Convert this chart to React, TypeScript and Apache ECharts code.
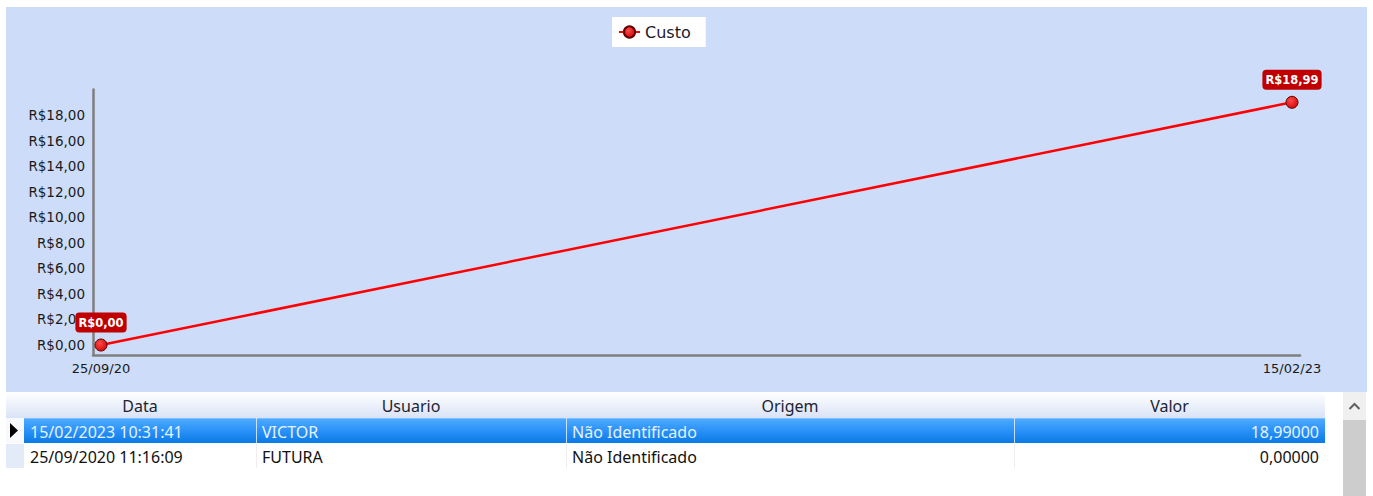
import React, { useEffect, useRef } from 'react';
import * as echarts from 'echarts';

// ---- data ----
const dates = ['2020-09-25T11:16:09', '2023-02-15T10:31:41'];
const dateLabels = ['25/09/20', '15/02/23'];
const costs = [0, 18.99];
const yTicks = [0, 2, 4, 6, 8, 10, 12, 14, 16, 18];
const seriesName = 'Custo';

const tableColumns = ['Data', 'Usuario', 'Origem', 'Valor'];
const tableDates = ['15/02/2023 10:31:41', '25/09/2020 11:16:09'];
const tableUsers = ['VICTOR', 'FUTURA'];
const tableOrigins = ['Não Identificado', 'Não Identificado'];
const tableValues = ['18,99000', '0,00000'];

const money = (v: number) => 'R$' + v.toFixed(2).replace('.', ',');

const colLeft = [24, 256, 566, 1014];
const colWidth = [232, 310, 448, 311];
const colAlign: ('left' | 'right')[] = ['left', 'left', 'left', 'right'];

export default function App() {
  const ref = useRef<HTMLDivElement>(null);

  useEffect(() => {
    document.body.style.margin = '0';
    if (!ref.current) return;
    const chart = echarts.init(ref.current, undefined, { renderer: 'svg' });
    const times = dates.map((d) => Date.parse(d));
    const span = times[1] - times[0];
    const pad = (span * 8) / 1191;
    const ball = new echarts.graphic.RadialGradient(0.4, 0.35, 0.75, [
      { offset: 0, color: '#ff4a4a' },
      { offset: 1, color: '#d00000' },
    ]);
    chart.setOption({
      animation: false,
      backgroundColor: 'transparent',
      legend: {
        left: 612,
        top: 17,
        backgroundColor: '#ffffff',
        padding: [7, 15, 7, 6],
        itemWidth: 21,
        itemHeight: 14,
        textStyle: { fontFamily: 'DejaVu Sans', fontSize: 16, color: '#1a1a2a' },
        data: [seriesName],
      },
      grid: { left: 93, right: 73, top: 89.4, bottom: 37 },
      xAxis: {
        type: 'value',
        scale: true,
        min: times[0] - pad,
        max: times[1] + pad,
        axisLine: { show: true, onZero: false, lineStyle: { color: '#7f7f7f', width: 2.5 } },
        axisTick: { show: false },
        splitLine: { show: false },
        axisLabel: {
          customValues: times,
          margin: 7,
          fontFamily: 'DejaVu Sans',
          fontSize: 13,
          color: '#1a1a1a',
          formatter: (v: number) => {
            const i = times.indexOf(v);
            return i >= 0 ? dateLabels[i] : '';
          },
        },
      },
      yAxis: {
        type: 'value',
        min: -0.78,
        max: 20,
        axisLine: { show: true, lineStyle: { color: '#7f7f7f', width: 2.5 } },
        axisTick: { show: false },
        splitLine: { show: false },
        axisLabel: {
          customValues: yTicks,
          margin: 8,
          fontFamily: 'DejaVu Sans',
          fontSize: 13.5,
          color: '#1a1a1a',
          formatter: (v: number) => money(v),
        },
      },
      series: [
        {
          name: seriesName,
          type: 'line',
          data: times.map((t, i) => [t, costs[i]]),
          symbol: 'circle',
          symbolSize: 12,
          lineStyle: { color: '#ff0000', width: 2.5 },
          itemStyle: { color: ball, borderColor: '#600000', borderWidth: 1 },
          label: {
            show: true,
            position: 'top',
            distance: 6,
            formatter: (p: any) => money(p.value[1]),
            backgroundColor: '#c00000',
            borderRadius: 4,
            padding: [3, 3, 2, 3],
            lineHeight: 15,
            color: '#ffffff',
            fontWeight: 'bold',
            fontFamily: 'DejaVu Sans',
            fontSize: 11.5,
          },
        },
      ],
    });
    return () => chart.dispose();
  }, []);

  const cellText = (rowIdx: number, colIdx: number) =>
    [tableDates, tableUsers, tableOrigins, tableValues][colIdx][rowIdx];

  const rowTops = [418, 444];
  const rowHeights = [25, 24];

  return (
    <div style={{ position: 'relative', width: 1373, height: 496, background: '#ffffff', overflow: 'hidden', fontFamily: '"Noto Sans", sans-serif' }}>
      <div style={{ position: 'absolute', left: 6, top: 7, width: 1361, height: 385, background: '#cddcf8' }} />
      <div ref={ref} style={{ position: 'absolute', left: 0, top: 0, width: 1373, height: 392 }} />

      {/* header */}
      <div style={{ position: 'absolute', left: 6, top: 392, width: 1319, height: 26, background: 'linear-gradient(to bottom, #ffffff 0%, #eef2fb 45%, #d9e3f6 100%)' }} />
      {tableColumns.map((c, i) => (
        <div key={c} style={{ position: 'absolute', left: colLeft[i], top: 392, width: colWidth[i], height: 26, lineHeight: '28px', textAlign: 'center', fontSize: 16, color: '#1c2433' }}>{c}</div>
      ))}

      {/* rows */}
      {rowTops.map((top, r) => (
        <React.Fragment key={r}>
          <div style={{ position: 'absolute', left: 6, top, width: 18, height: rowHeights[r], background: r === 0 ? '#f7f9fd' : '#e4ebf8' }} />
          {r === 0 && (
            <svg style={{ position: 'absolute', left: 6, top }} width={18} height={25}>
              <polygon points="4,5 12,12.5 4,20" fill="#000000" />
            </svg>
          )}
          <div style={{ position: 'absolute', left: 24, top, width: 1301, height: rowHeights[r], background: r === 0 ? 'linear-gradient(to bottom, #4caaff 0%, #2d93fa 45%, #0a7ae4 100%)' : '#ffffff', borderTop: r === 0 ? '1px solid #7cc0ff' : 'none', boxSizing: 'border-box' }} />
          {colLeft.slice(1).map((x) => (
            <div key={x} style={{ position: 'absolute', left: x, top, width: 1, height: rowHeights[r], background: r === 0 ? 'rgba(225,240,255,0.85)' : '#eeeeee' }} />
          ))}
          {tableColumns.map((_, c) => (
            <div key={c} style={{ position: 'absolute', left: colLeft[c] + 6, top, width: colWidth[c] - 12, height: rowHeights[r], lineHeight: rowHeights[r] + 3 + 'px', textAlign: colAlign[c], fontSize: 16, color: r === 0 ? '#e6f2ff' : '#111111', whiteSpace: 'nowrap' }}>
              {cellText(r, c)}
            </div>
          ))}
        </React.Fragment>
      ))}

      {/* scrollbar */}
      <div style={{ position: 'absolute', left: 1343, top: 392, width: 23, height: 104, background: '#f0f0f0' }} />
      <svg style={{ position: 'absolute', left: 1343, top: 392 }} width={23} height={26}>
        <polyline points="6.5,17 11.5,12 16.5,17" fill="none" stroke="#606060" strokeWidth={2} />
      </svg>
      <div style={{ position: 'absolute', left: 1343, top: 420, width: 23, height: 76, background: '#cdcdcd' }} />
    </div>
  );
}
